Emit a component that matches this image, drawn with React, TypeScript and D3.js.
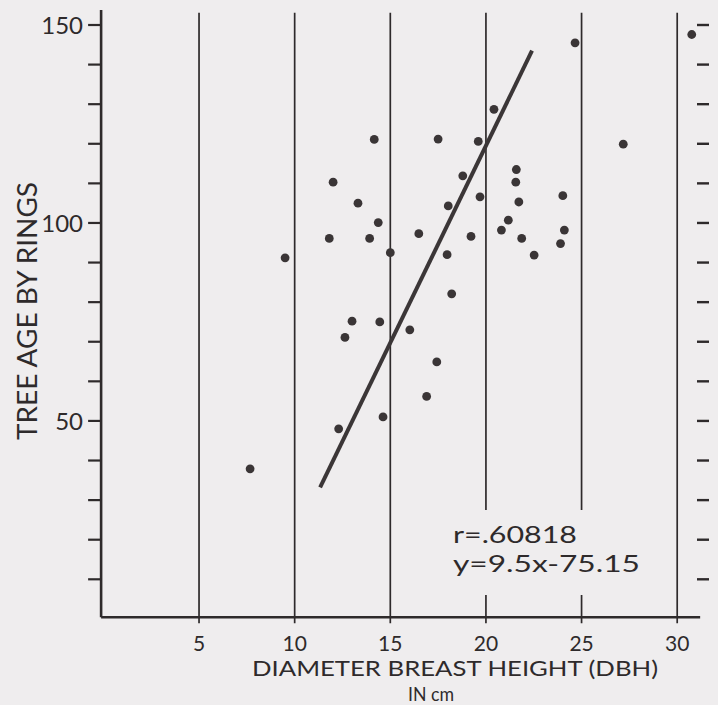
import React, { useEffect, useRef } from 'react';
import * as d3 from 'd3';

// diameter (cm) and age (rings)
const dbh = [
    24.66, 20.42, 14.16, 17.50, 19.60, 21.59, 21.56, 12.01, 18.79, 19.69,
    24.02, 21.72, 13.31, 18.03, 14.37, 21.17, 20.81, 24.10, 11.81, 13.92,
    16.49, 19.22, 21.87, 23.90, 9.50, 15.00, 17.97, 22.52, 18.21, 13.00,
    14.45, 12.63, 16.02, 17.43, 16.90, 14.62, 12.30, 7.67, 27.18, 30.76,
];
const age = [
    145.5, 128.7, 121.1, 121.2, 120.6, 113.5, 110.3, 110.3, 111.9, 106.6,
    106.9, 105.3, 105.0, 104.3, 100.1, 100.7, 98.2, 98.2, 96.1, 96.1,
    97.3, 96.6, 96.1, 94.8, 91.2, 92.5, 92.0, 91.9, 82.1, 75.2,
    75.0, 71.1, 73.0, 64.9, 56.2, 51.0, 48.0, 37.9, 119.9, 147.6,
];
// fitted line as drawn in the figure
const fitX = [11.33, 22.41];
const fitY = [33.2, 143.5];

const xTicks = [5, 10, 15, 20, 25, 30];
const yTicks = [10, 20, 30, 40, 50, 60, 70, 80, 90, 100, 110, 120, 130, 140, 150];
const yLabels = [50, 100, 150];
const notes = ['r=.60818', 'y=9.5x-75.15'];

const BG = '#efedee';
const INK = '#2e2a2b';
const FONT = 'Lato, "DejaVu Sans", sans-serif';

const W = 718;
const H = 705;

const App: React.FC = () => {
    const svgRef = useRef<SVGSVGElement>(null);

    useEffect(() => {
        if (!svgRef.current) return;
        const svg = d3.select(svgRef.current);
        svg.selectAll('*').remove();

        const x = d3.scaleLinear().domain([0, 30]).range([103.4, 677.2]);
        const y = d3.scaleLinear().domain([10, 150]).range([579.3, 25]);

        const axisX = x(-0.12);
        const axisY = y(0.4);
        const gridTop = y(153.1);

        svg.append('rect').attr('width', W).attr('height', H).attr('fill', BG);

        // vertical rules at the x ticks, running a little below the axis
        svg.append('g')
            .selectAll('line')
            .data(xTicks)
            .join('line')
            .attr('x1', d => x(d)).attr('x2', d => x(d))
            .attr('y1', gridTop).attr('y2', axisY + 6)
            .attr('stroke', INK)
            .attr('stroke-width', 1.7);

        // blank patch behind the r / equation note
        svg.append('rect')
            .attr('x', 445).attr('y', 510)
            .attr('width', 205).attr('height', 85)
            .attr('fill', BG);

        // axes
        svg.append('line')
            .attr('x1', axisX).attr('x2', axisX)
            .attr('y1', y(153.8)).attr('y2', axisY)
            .attr('stroke', INK).attr('stroke-width', 2.6);
        svg.append('line')
            .attr('x1', axisX).attr('x2', x(31.2))
            .attr('y1', axisY).attr('y2', axisY)
            .attr('stroke', INK).attr('stroke-width', 2.4);

        // left ticks
        svg.append('g')
            .selectAll('line')
            .data(yTicks)
            .join('line')
            .attr('x1', axisX - 13).attr('x2', axisX)
            .attr('y1', d => y(d)).attr('y2', d => y(d))
            .attr('stroke', INK).attr('stroke-width', 2.2);

        // right ticks, no axis line
        svg.append('g')
            .selectAll('line')
            .data(yTicks)
            .join('line')
            .attr('x1', 697).attr('x2', 709)
            .attr('y1', d => y(d)).attr('y2', d => y(d))
            .attr('stroke', INK).attr('stroke-width', 2.4);

        svg.append('g')
            .selectAll('text')
            .data(yLabels)
            .join('text')
            .attr('x', 83)
            .attr('y', d => y(d) + 9)
            .attr('text-anchor', 'end')
            .attr('font-family', FONT)
            .attr('font-size', 24)
            .attr('fill', INK)
            .text(d => d);

        svg.append('g')
            .selectAll('text')
            .data(xTicks)
            .join('text')
            .attr('x', d => x(d))
            .attr('y', 650.5)
            .attr('text-anchor', 'middle')
            .attr('font-family', FONT)
            .attr('font-size', 21)
            .attr('fill', INK)
            .text(d => d);

        svg.append('text')
            .attr('x', 252).attr('y', 676)
            .attr('textLength', 406).attr('lengthAdjust', 'spacingAndGlyphs')
            .attr('font-family', FONT).attr('font-size', 21).attr('fill', INK)
            .text('DIAMETER BREAST HEIGHT (DBH)');
        svg.append('text')
            .attr('x', 408).attr('y', 700.5)
            .attr('textLength', 46).attr('lengthAdjust', 'spacingAndGlyphs')
            .attr('font-family', FONT).attr('font-size', 20).attr('fill', INK)
            .text('IN cm');

        svg.append('text')
            .attr('transform', 'translate(37,440) rotate(-90)')
            .attr('textLength', 258).attr('lengthAdjust', 'spacingAndGlyphs')
            .attr('font-family', FONT).attr('font-size', 26).attr('fill', INK)
            .text('TREE AGE BY RINGS');

        // regression line
        const line = d3.line<number>()
            .x(d => x(fitX[d]))
            .y(d => y(fitY[d]));
        svg.append('path')
            .datum([0, 1])
            .attr('d', line)
            .attr('fill', 'none')
            .attr('stroke', '#3b3637')
            .attr('stroke-width', 4);

        svg.append('g')
            .selectAll('circle')
            .data(dbh.map((d, i) => [d, age[i]]))
            .join('circle')
            .attr('cx', d => x(d[0]))
            .attr('cy', d => y(d[1]))
            .attr('r', 4.4)
            .attr('fill', '#3a3536');

        svg.append('g')
            .selectAll('text')
            .data(notes)
            .join('text')
            .attr('x', 453)
            .attr('y', (_, i) => 543 + i * 29)
            .attr('textLength', (_, i) => (i === 0 ? 124 : 187))
            .attr('lengthAdjust', 'spacingAndGlyphs')
            .attr('font-family', FONT)
            .attr('font-size', 24)
            .attr('fill', INK)
            .text(d => d);
    }, []);

    return (
        <svg
            ref={svgRef}
            width={W}
            height={H}
            style={{ position: 'absolute', left: 0, top: 0, display: 'block' }}
        />
    );
};

export default App;
